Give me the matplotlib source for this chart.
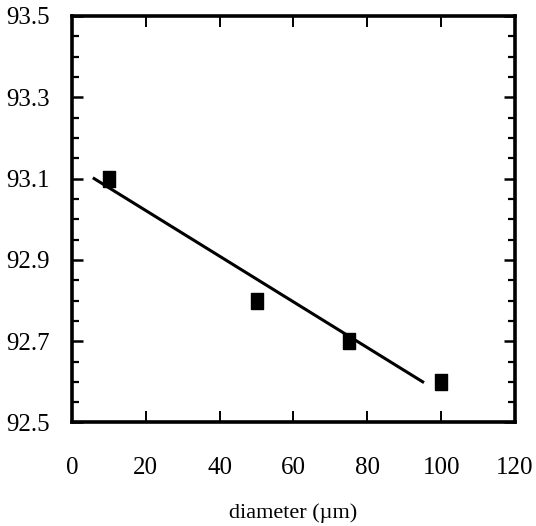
import matplotlib
matplotlib.use('Agg')
import matplotlib.pyplot as plt
import numpy as np
from matplotlib.ticker import MultipleLocator, FormatStrFormatter

# measured points
diameter = [10, 50, 75, 100]
value = [93.1, 92.8, 92.7, 92.6]

# fitted line end points
fit_x = [6, 95]
fit_y = [93.1, 92.6]

x_ticks = [0, 20, 40, 60, 80, 100, 120]
y_ticks = [92.5, 92.7, 92.9, 93.1, 93.3, 93.5]


def main():
	plt.rcParams['font.family'] = ['Liberation Serif', 'DejaVu Serif']
	fig = plt.figure(figsize=(5.36, 5.26), dpi=100)
	ax = fig.add_axes([0.1343, 0.1968, 0.8265, 0.7728])

	square = [(-0.72, -1), (0.72, -1), (0.72, 1), (-0.72, 1), (-0.72, -1)]
	ax.plot(diameter, value, linestyle='none', marker=square, markersize=11.5,
		color='black')
	ax.plot(fit_x, fit_y, color='black', linewidth=2.2)

	ax.set_xlim(0, 120)
	ax.set_ylim(92.5, 93.5)
	ax.set_xticks(x_ticks)
	ax.set_yticks(y_ticks)
	ax.yaxis.set_minor_locator(MultipleLocator(0.05))
	ax.yaxis.set_major_formatter(FormatStrFormatter('%.1f'))

	for s in ax.spines.values():
		s.set_linewidth(2.6)

	ax.tick_params(axis='x', which='major', direction='in', top=True, length=8,
		width=1.4, pad=25, labelsize=18)
	ax.tick_params(axis='y', which='major', direction='in', right=True, length=8,
		width=1.8, pad=16, labelsize=18)
	ax.tick_params(axis='y', which='minor', direction='in', right=True, length=5,
		width=1.6)

	ax.set_xlabel('diameter (\u00b5m)', fontsize=16, labelpad=17)

	fig.savefig('out.png', dpi=100)


if __name__ == '__main__':
	main()
